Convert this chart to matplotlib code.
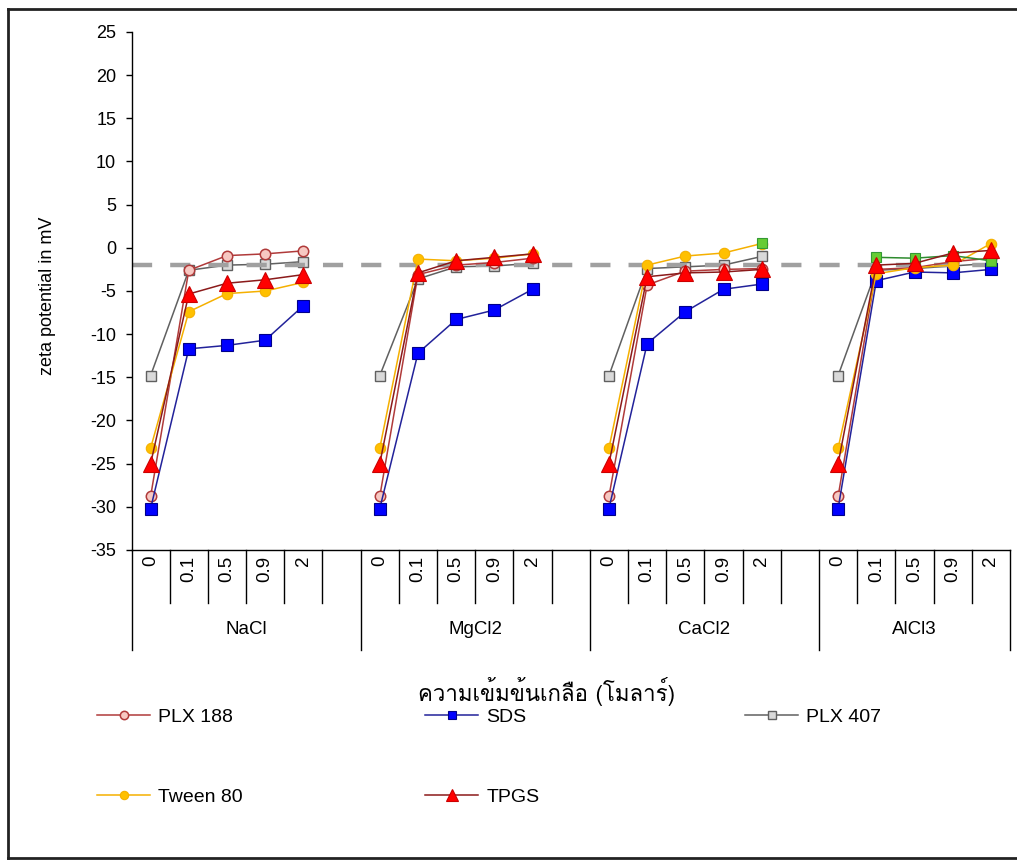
import numpy as np
import matplotlib
matplotlib.use('Agg')
import matplotlib.pyplot as plt
from matplotlib import font_manager
from matplotlib.ft2font import FT2Font
from matplotlib.lines import Line2D
from matplotlib.transforms import blended_transform_factory

# ---------------- data ----------------
groups = ['NaCl', 'MgCl2', 'CaCl2', 'AlCl3']
concentrations = ['0', '0.1', '0.5', '0.9', '2']

# values per group (NaCl, MgCl2, CaCl2, AlCl3) x concentration (0, 0.1, 0.5, 0.9, 2)
plx188 = [-28.8, -2.6, -0.9, -0.7, -0.35,
          -28.8, -3.1, -2.0, -1.7, -1.2,
          -28.8, -4.3, -2.7, -2.5, -2.4,
          -28.8, -2.5, -2.3, -1.6, -1.2]
sds = [-30.2, -11.7, -11.3, -10.7, -6.7,
       -30.2, -12.2, -8.3, -7.2, -4.8,
       -30.2, -11.1, -7.4, -4.8, -4.2,
       -30.2, -3.8, -2.8, -2.9, -2.5]
plx407 = [-14.8, -2.6, -2.0, -1.9, -1.6,
          -14.8, -3.6, -2.2, -2.1, -1.8,
          -14.8, -2.4, -2.2, -2.0, -1.0,
          -14.8, -2.6, -2.4, -2.1, -1.8]
tween80 = [-23.2, -7.4, -5.3, -5.0, -4.0,
           -23.2, -1.3, -1.5, -1.2, -0.7,
           -23.2, -2.0, -0.95, -0.6, 0.5,
           -23.2, -3.0, -2.3, -2.0, 0.5]
tpgs = [-25.0, -5.35, -4.1, -3.7, -3.1,
        -25.0, -2.9, -1.5, -1.1, -0.7,
        -25.0, -3.35, -2.9, -2.8, -2.5,
        -25.0, -2.0, -1.8, -0.6, -0.3]
unlabeled_green = [np.nan, np.nan, np.nan, np.nan, np.nan,
                   np.nan, np.nan, np.nan, np.nan, np.nan,
                   np.nan, np.nan, np.nan, np.nan, 0.6,
                   np.nan, -1.1, -1.2, -0.9, -1.5]
reference_level = -2.0

y_ticks = list(range(-35, 30, 5))
y_label = 'zeta potential in mV'
x_label = 'ความเข้มข้นเกลือ (โมลาร์)'

# ---------------- fonts ----------------
def find_font_with(ch):
    for f in font_manager.fontManager.ttflist:
        try:
            if ord(ch) in FT2Font(f.fname).get_charmap():
                return f.name
        except Exception:
            pass
    return None

thai_font = find_font_with('ก')
plt.rcParams['font.family'] = ['Liberation Sans', 'DejaVu Sans']
plt.rcParams['lines.scale_dashes'] = False

W, H = 1017, 861
fig = plt.figure(figsize=(W / 100, H / 100), dpi=100)

def fx(px):
    return px / W

def fy(py):
    return 1 - py / H

ax_left, ax_right, ax_top, ax_bot = 131.5, 1010, 32, 550
ax = fig.add_axes([fx(ax_left), fy(ax_bot), fx(ax_right - ax_left), (ax_bot - ax_top) / H])

# slot layout: 6 slots per group (5 concentrations + gap), last group 5 slots
slots_per_group = [6, 6, 6, 5]
group_start = np.concatenate([[0], np.cumsum(slots_per_group)[:-1]])
n_slots = sum(slots_per_group)

series = [
    (plx188, 'PLX 188', dict(color='#b03a3a', marker='o', mfc='#f7c8c2', mec='#b03a3a', ms=7.5, mew=1.1)),
    (sds, 'SDS', dict(color='#22229a', marker='s', mfc='#0000ff', mec='#00008b', ms=8, mew=0.8)),
    (plx407, 'PLX 407', dict(color='#606060', marker='s', mfc='#d9d9d9', mec='#606060', ms=6.5, mew=1.0)),
    (tween80, 'Tween 80', dict(color='#f5b000', marker='o', mfc='#ffc000', mec='#f5b000', ms=7.5, mew=0.8)),
    (tpgs, 'TPGS', dict(color='#8b1a1a', marker='^', mfc='#ff0000', mec='#cc0000', ms=11, mew=0.8)),
    (unlabeled_green, None, dict(color='#2e8b2e', marker='s', mfc='#66cc33', mec='#339933', ms=6.5, mew=0.8)),
]

handles = []
zorders = [3, 3, 2, 3, 3.2, 3.1]
for (vals, name, st), z in zip(series, zorders):
    vals = np.array(vals, dtype=float)
    h = None
    for g in range(len(groups)):
        xs = group_start[g] + np.arange(len(concentrations)) + 0.5
        ys = vals[g * 5:(g + 1) * 5]
        h, = ax.plot(xs, ys, lw=1.1, zorder=z, clip_on=False, **st)
    if name is not None:
        handles.append((h, name))

ax.axhline(reference_level, color='#a0a0a0', lw=3.2, dashes=(14.5, 13), zorder=2.5)

ax.set_xlim(0, n_slots)
ax.set_ylim(-35, 25)
ax.set_yticks(y_ticks)
ax.set_yticklabels([str(t) for t in y_ticks], fontsize=13)
ax.tick_params(axis='y', direction='out', length=4, width=1, pad=7)
ax.set_xticks([])
for s in ['top', 'right']:
    ax.spines[s].set_visible(False)
for s in ['left', 'bottom']:
    ax.spines[s].set_linewidth(1.0)
    ax.spines[s].set_color('black')

trans = blended_transform_factory(ax.transData, ax.transAxes)
span = ax_bot - ax_top
short_end = -(603 - ax_bot) / span
long_end = -(650 - ax_bot) / span
cat_label_top = -(556 - ax_bot) / span
group_label_y = -(630 - ax_bot) / span

for g, gname in enumerate(groups):
    s0 = group_start[g]
    ax.plot([s0, s0], [0, long_end], color='black', lw=1.0, transform=trans, clip_on=False)
    for i, c in enumerate(concentrations):
        ax.text(s0 + i + 0.5, cat_label_top, c, rotation=90, ha='center', va='top',
                fontsize=13.5, transform=trans)
    for k in range(1, slots_per_group[g]):
        ax.plot([s0 + k, s0 + k], [0, short_end], color='black', lw=1.0, transform=trans, clip_on=False)
    ax.text(s0 + slots_per_group[g] / 2, group_label_y, gname, ha='center', va='center',
            fontsize=13.5, transform=trans)
ax.plot([n_slots, n_slots], [0, long_end], color='black', lw=1.0, transform=trans, clip_on=False)

fig.text(fx(48), fy(296), y_label, rotation=90, ha='center', va='center', fontsize=13)
xl_fam = [thai_font, 'DejaVu Sans'] if thai_font else ['DejaVu Sans']
fig.text(fx(547), fy(691), x_label, ha='center', va='center', fontsize=16, family=xl_fam)

# legend entries placed individually
leg_pos = {'PLX 188': (97, 717), 'SDS': (425, 717), 'PLX 407': (745, 717),
           'Tween 80': (97, 797), 'TPGS': (425, 797)}
for h, name in handles:
    px, py = leg_pos[name]
    fig.legend([h], [name], loc='center left', bbox_to_anchor=(fx(px), fy(py)),
               frameon=False, handlelength=2.75, handletextpad=0.4, borderpad=0,
               borderaxespad=0, fontsize=14, markerscale=0.8)

# outer frame (top, left, bottom)
fr = dict(color='#222222', lw=2.0, transform=fig.transFigure, clip_on=False)
fig.add_artist(Line2D([fx(8), 1.0], [fy(9), fy(9)], **fr))
fig.add_artist(Line2D([fx(8), fx(8)], [fy(9), fy(858)], **fr))
fig.add_artist(Line2D([fx(8), 1.0], [fy(858), fy(858)], **fr))

fig.savefig('out.png', dpi=100, facecolor='white')
